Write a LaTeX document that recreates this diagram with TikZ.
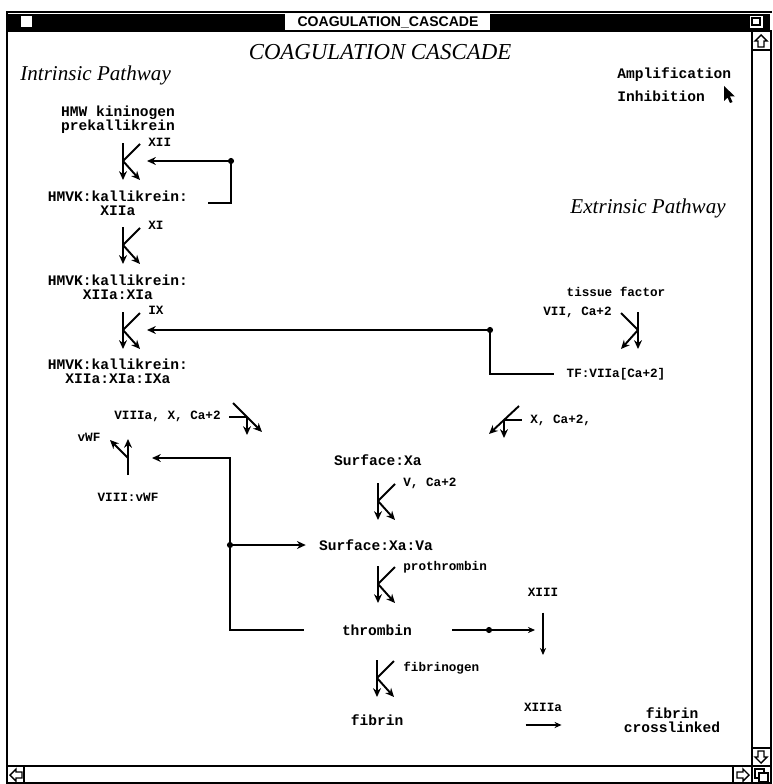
\documentclass[tikz,border=0pt]{standalone}
\usepackage{fontspec}
\setmainfont{Liberation Serif}
\setsansfont{Liberation Sans}
\setmonofont{Liberation Mono}
\usepackage{tikz}
\usetikzlibrary{arrows.meta,positioning,calc}
\newcommand{\kglyph}[2][1]{%
  \draw[rxa] (#2) ++(0,-18) -- ++(0,37);
  \draw[rx] (#2) ++(#1*17,-17) -- (#2);
  \draw[rxa] (#2) -- ++(#1*17,19);
}

\begin{document}
\begin{tikzpicture}[x=0.02cm, y=-0.02cm,
  every node/.style={inner sep=0pt},
  species/.style={font=\ttfamily\bfseries\fontsize{8.3}{7.9}\selectfont, align=center},
  factor/.style={font=\ttfamily\bfseries\fontsize{7.2}{8}\selectfont},
  heading/.style={font=\rmfamily\itshape\fontsize{12}{14}\selectfont},
  frame/.style={line width=1pt},
  ln/.style={line width=1.1pt},
  rx/.style={line width=1.1pt},
  rxa/.style={line width=1.1pt, -{Stealth[length=5pt,width=4.5pt]}},
  thinarrow/.style={line width=0.8pt, -{Stealth[length=4pt,width=3.5pt]}},
  dot/.style={circle, fill, minimum size=3.5pt}
]
  \useasboundingbox (0,0) rectangle (772,784);

  % window
  \fill (8,14) rectangle (770,30);
  \fill[white] (285,14) rectangle (490,30);
  \node[font=\sffamily\bfseries\fontsize{8}{9}\selectfont] (wtitle) at (388,22) {COAGULATION\_CASCADE};
  \draw[frame, fill=white] (20,15) rectangle (33,28);
  \draw[frame, fill=white] (749,15) rectangle (764,29);
  \draw[line width=0.8pt] (752,18) rectangle (760,25);
  \draw[frame] (6,12) -- (772,12);
  \draw[frame] (6,31) -- (772,31);
  \draw[frame] (7,12) -- (7,784);
  \draw[frame] (752,31) -- (752,784);
  \draw[line width=0.6pt] (771,31) -- (771,784);
  \draw[frame] (752,50) -- (772,50);
  \draw[frame] (752,748) -- (772,748);
  \draw[frame] (7,766) -- (772,766);
  \draw[frame] (7,783) -- (772,783);
  \draw[frame] (24,766) -- (24,783);
  \draw[frame] (733,766) -- (733,783);
  \draw[line width=0.8pt] (761,35) -- (767,41) -- (764,41) -- (764,47) -- (758,47) -- (758,41) -- (755,41) -- cycle;
  \draw[line width=0.8pt] (761,763) -- (767,757) -- (764,757) -- (764,751) -- (758,751) -- (758,757) -- (755,757) -- cycle;
  \draw[line width=0.8pt] (10,775) -- (16,769) -- (16,772) -- (22,772) -- (22,778) -- (16,778) -- (16,781) -- cycle;
  \draw[line width=0.8pt] (749,775) -- (743,769) -- (743,772) -- (737,772) -- (737,778) -- (743,778) -- (743,781) -- cycle;
  \draw[line width=0.8pt] (755,769) rectangle (764,778);
  \draw[line width=0.8pt, fill=white] (759,773) rectangle (768,782);
  \fill (724,86) -- (724,101) -- (727.5,97.5) -- (730,103) -- (732.5,102) -- (730,96.5) -- (735,96.5) -- cycle;

  % headings
  \node[font=\rmfamily\itshape\fontsize{13}{15}\selectfont] (title) at (380,52) {COAGULATION CASCADE};
  \node[heading, anchor=west] (intr) at (20,75) {Intrinsic Pathway};
  \node[heading, anchor=east] (extr) at (726,208) {Extrinsic Pathway};
  \node[species, anchor=west] (amp) at (617,75) {Amplification};
  \node[species, anchor=west] (inh) at (617,96) {Inhibition};

  % species
  \node[species] (hmw) at (118,120) {HMW kininogen\\prekallikrein};
  \node[species] (r1) at (118,203) {HMVK:kallikrein:\\XIIa};
  \node[species] (r2) at (118,287) {HMVK:kallikrein:\\XIIa:XIa};
  \node[species] (r3) at (118,371) {HMVK:kallikrein:\\XIIa:XIa:IXa};
  \node[factor] (tf) at (616,292) {tissue factor};
  \node[factor] (tfvii) at (616,374) {TF:VIIa[Ca+2]};
  \node[factor] (viii) at (128,497) {VIII:vWF};
  \node[species] (sxa) at (378,460) {Surface:Xa};
  \node[species] (sxv) at (376,545) {Surface:Xa:Va};
  \node[species] (thr) at (377,630) {thrombin};
  \node[species] (fib) at (377,720) {fibrin};
  \node[species] (fxl) at (672,720) {fibrin\\crosslinked};

  % factors
  \node[factor, anchor=west] (fxii) at (148,142) {XII};
  \node[factor, anchor=west] (fxi) at (148,225) {XI};
  \node[factor, anchor=west] (fix) at (148,310) {IX};
  \node[factor, anchor=east] (fvii) at (612,312) {VII, Ca+2};
  \node[factor, anchor=east] (fviii) at (221,416) {VIIIa, X, Ca+2};
  \node[factor, anchor=west] (fx) at (530,420) {X, Ca+2,};
  \node[factor] (fvwf) at (89,437) {vWF};
  \node[factor, anchor=west] (fv) at (403,483) {V, Ca+2};
  \node[factor, anchor=west] (fpro) at (403,567) {prothrombin};
  \node[factor] (fxiii) at (543,592) {XIII};
  \node[factor, anchor=west] (ffgn) at (403,668) {fibrinogen};
  \node[factor] (fxiiia) at (543,707) {XIIIa};

  % reactions
  \coordinate (k1) at (123,161);
  \coordinate (k2) at (123,245);
  \coordinate (k3) at (123,330);
  \coordinate (k4) at (638,330);
  \coordinate (k5) at (378,501);
  \coordinate (k6) at (378,584);
  \coordinate (k7) at (377,678);
  \coordinate (g8) at (247,417);
  \coordinate (gx) at (504,420);
  \coordinate (gv) at (128,458);
  \coordinate (x13end) at (543,655);
  \kglyph{k1}
  \kglyph{k2}
  \kglyph{k3}
  \kglyph[-1]{k4}
  \kglyph{k5}
  \kglyph{k6}
  \kglyph{k7}
  \draw[rx] (g8) -- ++(-18,0);
  \draw[rxa] (g8) ++(-14,-14) -- ++(29,29);
  \draw[rxa] (g8) -- ++(0,18);
  \draw[rx] (gx) -- ++(18,0);
  \draw[rxa] (gx) ++(15,-14) -- ++(-30,28);
  \draw[rxa] (gx) -- ++(0,18);
  \draw[rxa] (gv) ++(0,17) -- ++(0,-36);
  \draw[rxa] (gv) -- ++(-18,-18);

  % feedback
  \node[dot] (d1) at (231,161) {};
  \node[dot] (d2) at (490,330) {};
  \node[dot] (d3) at (230,545) {};
  \node[dot] (d4) at (489,630) {};
  \draw[rxa, shorten >=0.48cm] (d1) -- (k1);
  \draw[ln, shorten >=0.4cm] (d1) |- (r1.east);
  \draw[rxa, shorten >=0.48cm] (d2) -- (k3);
  \draw[ln, shorten >=0.24cm] (d2) |- (tfvii.west);
  \draw[rxa, shorten >=0.26cm] (d3) -- (sxv.west);
  \draw[rxa, shorten >=0.48cm] (d3) |- (gv);
  \draw[ln, shorten >=0.76cm] (d3) |- (thr.west);
  \draw[ln, shorten <=0.8cm] (thr.east) -- (d4);
  \draw[thinarrow, shorten >=0.16cm] (d4) -- (d4 -| x13end);
  \draw[thinarrow, shorten <=0.32cm] (fxiii.south) -- (x13end);
  \draw[thinarrow, shorten <=2.44cm, shorten >=1.24cm] ([yshift=-0.1cm]fib.east) -- ([yshift=-0.1cm]fib.east -| fxl.west);
\end{tikzpicture}
\end{document}
